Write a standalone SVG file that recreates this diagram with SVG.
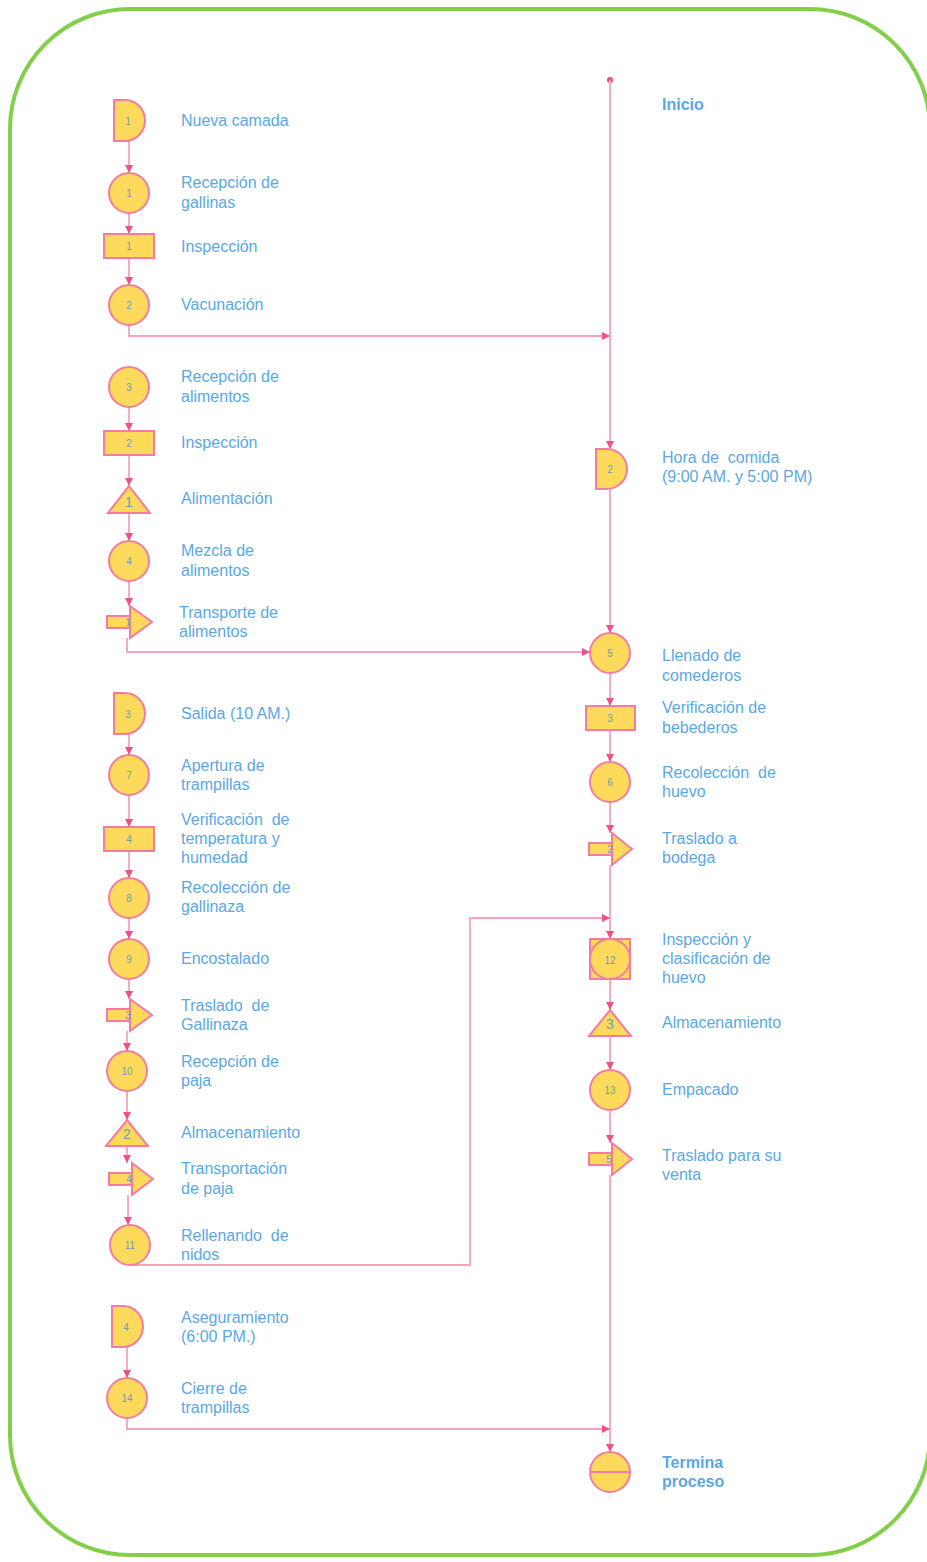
<svg xmlns="http://www.w3.org/2000/svg" width="927" height="1562" viewBox="0 0 927 1562" xml:space="preserve">
<style>
.s{fill:#fdd95c;stroke:#f57ca0;stroke-width:2}
.n{font-family:"Liberation Sans",Arial,sans-serif;font-size:10px;fill:#6a9fb0;text-anchor:middle;dominant-baseline:central}
.nb{font-family:"Liberation Sans",Arial,sans-serif;font-size:14px;fill:#6a9fb0;text-anchor:middle;dominant-baseline:central}
.t{font-family:"Liberation Sans",Arial,sans-serif;font-size:16px;fill:#5aa8e6;white-space:pre}
.tb{font-family:"Liberation Sans",Arial,sans-serif;font-size:16px;fill:#5aa8e6;font-weight:bold}
.c{fill:none;stroke:#f7a3ba;stroke-width:1.8}
.ca{fill:none;stroke:#f7a3ba;stroke-width:1.8;marker-end:url(#ah)}
</style>
<defs>
<marker id="ah" markerWidth="8" markerHeight="8" refX="8" refY="4" orient="auto" markerUnits="userSpaceOnUse">
<path d="M0,0 L8,4 L0,8 Z" fill="#f05088"/>
</marker>
</defs>
<rect x="10" y="9" width="920" height="1546" rx="120" ry="120" fill="#fff" stroke="#84cf4a" stroke-width="4"/>
<g id="connectors">
<circle cx="610" cy="80" r="3" fill="#f05080"/>
<path class="ca" d="M610,80 V449"/>
<path class="ca" d="M610,489 V633"/>
<path class="ca" d="M610,673 V706"/>
<path class="ca" d="M610,730 V762"/>
<path class="ca" d="M610,802 V833"/>
<path class="ca" d="M610,865 V939"/>
<path class="ca" d="M610,979 V1010"/>
<path class="ca" d="M610,1036 V1070"/>
<path class="ca" d="M610,1110 V1143"/>
<path class="ca" d="M610,1175 V1452"/>
<path class="ca" d="M129,141 V173"/>
<path class="ca" d="M129,213 V234"/>
<path class="ca" d="M129,258 V285"/>
<path class="ca" d="M129,325 V336 H610"/>
<path class="ca" d="M129,407 V431"/>
<path class="ca" d="M129,455 V486"/>
<path class="ca" d="M129,513 V541"/>
<path class="ca" d="M129,581 V606"/>
<path class="ca" d="M127,638 V652 H590"/>
<path class="ca" d="M129,734 V755"/>
<path class="ca" d="M129,795 V827"/>
<path class="ca" d="M129,851 V878"/>
<path class="ca" d="M129,918 V939"/>
<path class="ca" d="M129,979 V999"/>
<path class="ca" d="M127,1031 V1051"/>
<path class="ca" d="M127,1091 V1120"/>
<path class="ca" d="M127,1146 V1163"/>
<path class="ca" d="M128,1195 V1225"/>
<path class="ca" d="M130,1265 H470 V918 H610"/>
<path class="ca" d="M127,1347 V1378"/>
<path class="ca" d="M127,1418 V1429 H610"/>
</g>
<g id="n-inicio"><text class="tb" x="662" y="110">Inicio</text></g>
<g id="n-d1">
<path class="s" d="M114,100 H125 A20,20.5 0 0 1 125,141 H114 Z"/>
<text class="n" x="128" y="121">1</text>
<text class="t" x="181" y="126">Nueva camada</text>
</g>
<g id="n-c1">
<circle class="s" cx="129" cy="193" r="20"/>
<text class="n" x="129" y="193">1</text>
<text class="t" x="181" y="188">Recepción de</text>
<text class="t" x="181" y="208">gallinas</text>
</g>
<g id="n-r1">
<rect class="s" x="104" y="234" width="50" height="24"/>
<text class="n" x="129" y="246">1</text>
<text class="t" x="181" y="252">Inspección</text>
</g>
<g id="n-c2">
<circle class="s" cx="129" cy="305" r="20"/>
<text class="n" x="129" y="305">2</text>
<text class="t" x="181" y="310">Vacunación</text>
</g>
<g id="n-c3">
<circle class="s" cx="129" cy="387" r="20"/>
<text class="n" x="129" y="387">3</text>
<text class="t" x="181" y="382">Recepción de</text>
<text class="t" x="181" y="402">alimentos</text>
</g>
<g id="n-r2">
<rect class="s" x="104" y="431" width="50" height="24"/>
<text class="n" x="129" y="443">2</text>
<text class="t" x="181" y="448">Inspección</text>
</g>
<g id="n-t1">
<path class="s" d="M129,486 L150,513 L108,513 Z"/>
<text class="nb" x="129" y="502">1</text>
<text class="t" x="181" y="504">Alimentación</text>
</g>
<g id="n-c4">
<circle class="s" cx="129" cy="561" r="20"/>
<text class="n" x="129" y="561">4</text>
<text class="t" x="181" y="556">Mezcla de</text>
<text class="t" x="181" y="576">alimentos</text>
</g>
<g id="n-tr1">
<rect class="s" x="107" y="616" width="23" height="12"/>
<path class="s" d="M130,606 L152,622 L130,638 Z"/>
<text class="n" x="128" y="622">1</text>
<text class="t" x="179" y="618">Transporte de</text>
<text class="t" x="179" y="637">alimentos</text>
</g>
<g id="n-d3">
<path class="s" d="M114,693 H125 A20,20.5 0 0 1 125,734 H114 Z"/>
<text class="n" x="128" y="714">3</text>
<text class="t" x="181" y="719">Salida (10 AM.)</text>
</g>
<g id="n-c7">
<circle class="s" cx="129" cy="775" r="20"/>
<text class="n" x="129" y="775">7</text>
<text class="t" x="181" y="771">Apertura de</text>
<text class="t" x="181" y="790">trampillas</text>
</g>
<g id="n-r4">
<rect class="s" x="104" y="827" width="50" height="24"/>
<text class="n" x="129" y="839">4</text>
<text class="t" x="181" y="825">Verificación  de</text>
<text class="t" x="181" y="844">temperatura y</text>
<text class="t" x="181" y="863">humedad</text>
</g>
<g id="n-c8">
<circle class="s" cx="129" cy="898" r="20"/>
<text class="n" x="129" y="898">8</text>
<text class="t" x="181" y="893">Recolección de</text>
<text class="t" x="181" y="912">gallinaza</text>
</g>
<g id="n-c9">
<circle class="s" cx="129" cy="959" r="20"/>
<text class="n" x="129" y="959">9</text>
<text class="t" x="181" y="964">Encostalado</text>
</g>
<g id="n-tr3">
<rect class="s" x="107" y="1009" width="23" height="12"/>
<path class="s" d="M130,999 L152,1015 L130,1031 Z"/>
<text class="n" x="128" y="1015">3</text>
<text class="t" x="181" y="1011">Traslado  de</text>
<text class="t" x="181" y="1030">Gallinaza</text>
</g>
<g id="n-c10">
<circle class="s" cx="127" cy="1071" r="20"/>
<text class="n" x="127" y="1071">10</text>
<text class="t" x="181" y="1067">Recepción de</text>
<text class="t" x="181" y="1086">paja</text>
</g>
<g id="n-t2">
<path class="s" d="M127,1120 L148,1146 L106,1146 Z"/>
<text class="nb" x="127" y="1134">2</text>
<text class="t" x="181" y="1138">Almacenamiento</text>
</g>
<g id="n-tr4">
<rect class="s" x="109" y="1173" width="23" height="12"/>
<path class="s" d="M132,1163 L153,1179 L132,1195 Z"/>
<text class="n" x="129" y="1179">4</text>
<text class="t" x="181" y="1174">Transportación</text>
<text class="t" x="181" y="1194">de paja</text>
</g>
<g id="n-c11">
<circle class="s" cx="130" cy="1245" r="20"/>
<text class="n" x="130" y="1245">11</text>
<text class="t" x="181" y="1241">Rellenando  de</text>
<text class="t" x="181" y="1260">nidos</text>
</g>
<g id="n-d4">
<path class="s" d="M112,1306 H123 A20,20.5 0 0 1 123,1347 H112 Z"/>
<text class="n" x="126" y="1327">4</text>
<text class="t" x="181" y="1323">Aseguramiento</text>
<text class="t" x="181" y="1342">(6:00 PM.)</text>
</g>
<g id="n-c14">
<circle class="s" cx="127" cy="1398" r="20"/>
<text class="n" x="127" y="1398">14</text>
<text class="t" x="181" y="1394">Cierre de</text>
<text class="t" x="181" y="1413">trampillas</text>
</g>
<g id="n-d2">
<path class="s" d="M596,449 H607 A20,20 0 0 1 607,489 H596 Z"/>
<text class="n" x="610" y="469">2</text>
<text class="t" x="662" y="463">Hora de  comida</text>
<text class="t" x="662" y="482">(9:00 AM. y 5:00 PM)</text>
</g>
<g id="n-c5">
<circle class="s" cx="610" cy="653" r="20"/>
<text class="n" x="610" y="653">5</text>
<text class="t" x="662" y="661">Llenado de</text>
<text class="t" x="662" y="681">comederos</text>
</g>
<g id="n-r3">
<rect class="s" x="586" y="706" width="49" height="24"/>
<text class="n" x="610" y="718">3</text>
<text class="t" x="662" y="713">Verificación de</text>
<text class="t" x="662" y="733">bebederos</text>
</g>
<g id="n-c6">
<circle class="s" cx="610" cy="782" r="20"/>
<text class="n" x="610" y="782">6</text>
<text class="t" x="662" y="778">Recolección  de</text>
<text class="t" x="662" y="797">huevo</text>
</g>
<g id="n-tr2">
<rect class="s" x="589" y="843" width="23" height="12"/>
<path class="s" d="M612,833 L632,849 L612,865 Z"/>
<text class="n" x="610" y="849">2</text>
<text class="t" x="662" y="844">Traslado a</text>
<text class="t" x="662" y="863">bodega</text>
</g>
<g id="n-c12">
<rect class="s" x="590" y="939" width="40" height="40"/>
<circle class="s" cx="610" cy="959" r="20"/>
<text class="n" x="610" y="960">12</text>
<text class="t" x="662" y="945">Inspección y</text>
<text class="t" x="662" y="964">clasificación de</text>
<text class="t" x="662" y="983">huevo</text>
</g>
<g id="n-t3">
<path class="s" d="M610,1010 L631,1036 L589,1036 Z"/>
<text class="nb" x="610" y="1024">3</text>
<text class="t" x="662" y="1028">Almacenamiento</text>
</g>
<g id="n-c13">
<circle class="s" cx="610" cy="1090" r="20"/>
<text class="n" x="610" y="1090">13</text>
<text class="t" x="662" y="1095">Empacado</text>
</g>
<g id="n-tr5">
<rect class="s" x="589" y="1153" width="23" height="12"/>
<path class="s" d="M612,1143 L632,1159 L612,1175 Z"/>
<text class="n" x="609" y="1159">5</text>
<text class="t" x="662" y="1161">Traslado para su</text>
<text class="t" x="662" y="1180">venta</text>
</g>
<g id="n-end">
<circle class="s" cx="610" cy="1472" r="20"/>
<line x1="590" y1="1472" x2="630" y2="1472" stroke="#f57ca0" stroke-width="2"/>
<text class="tb" x="662" y="1468">Termina</text>
<text class="tb" x="662" y="1487">proceso</text>
</g>
</svg>
